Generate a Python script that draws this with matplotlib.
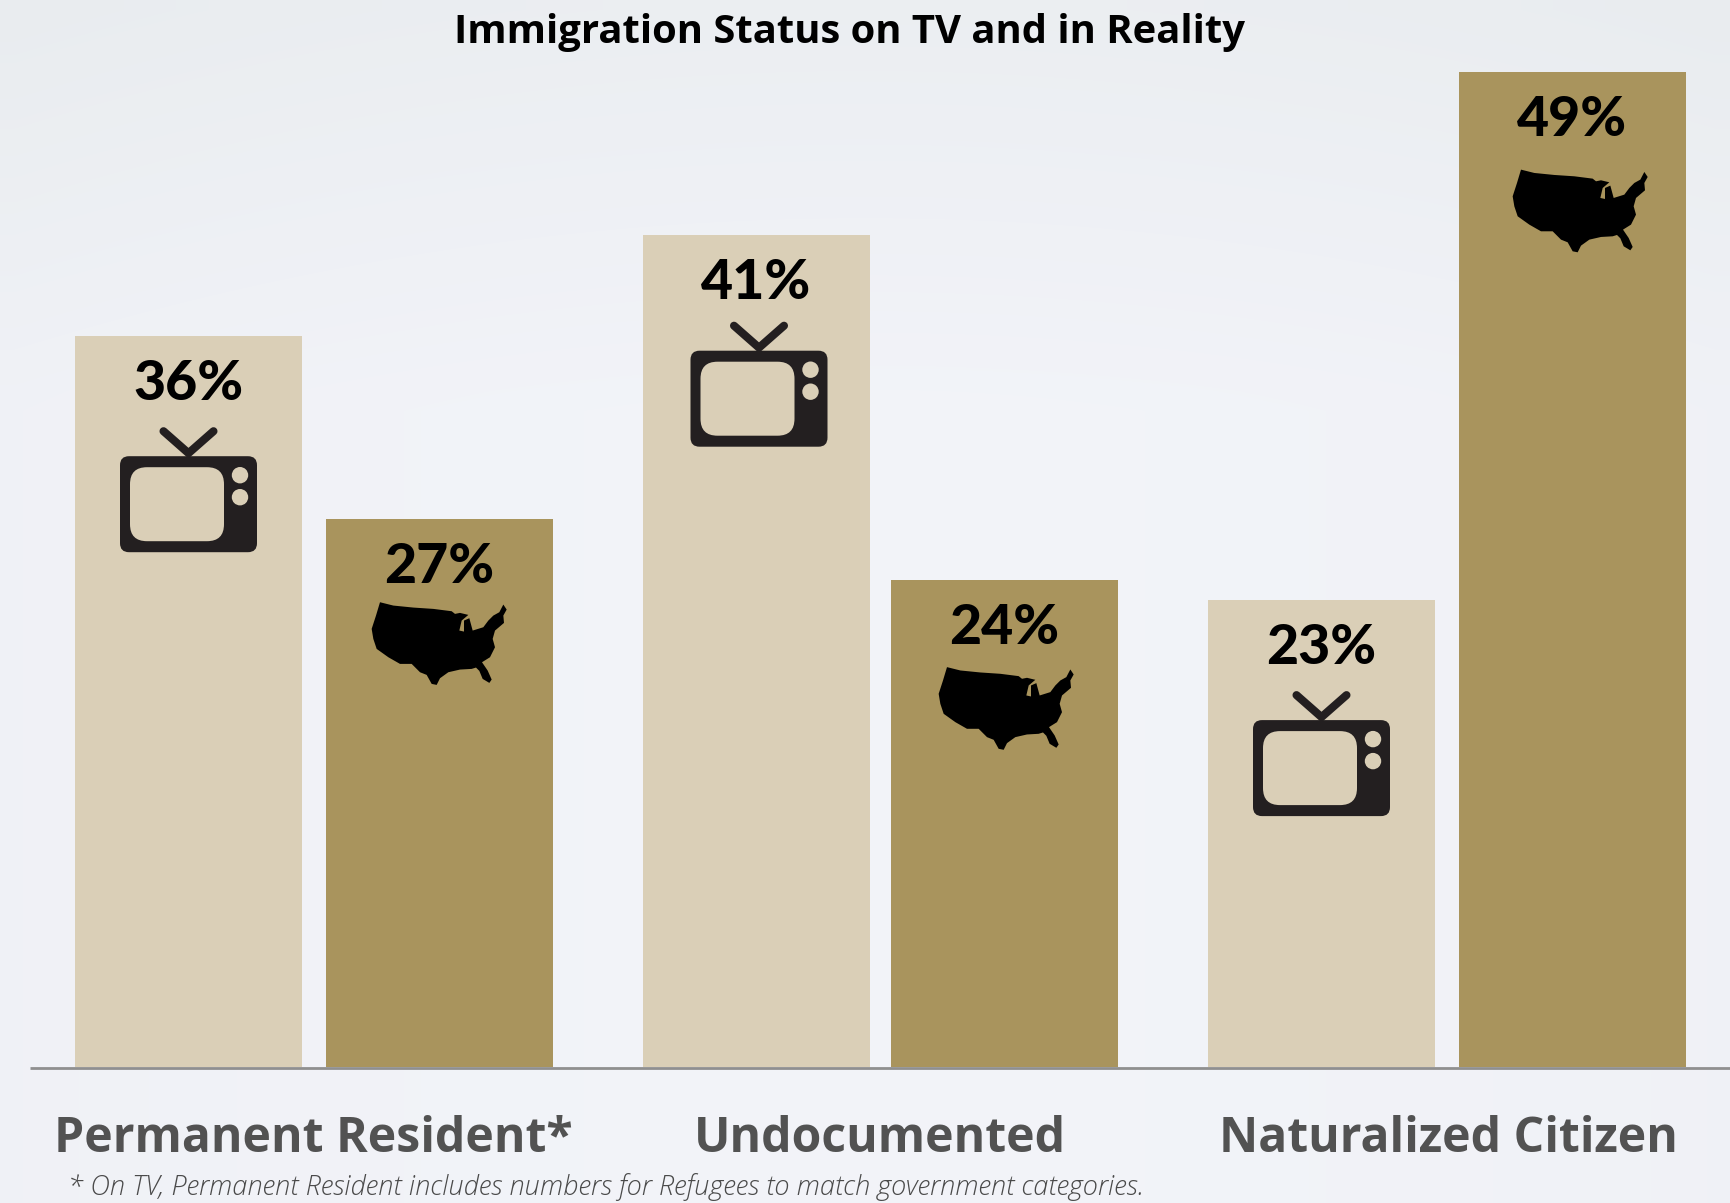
import matplotlib
matplotlib.use("Agg")
import matplotlib.pyplot as plt
import numpy as np
from matplotlib.patches import FancyBboxPatch, Circle, Polygon
from matplotlib.transforms import Affine2D

categories = ["Permanent Resident*", "Undocumented", "Naturalized Citizen"]
tv_values = [36, 41, 23]
real_values = [27, 24, 49]

W, H = 1730, 1203
BASE = 1067      # pixel row of the baseline
PX_PER_PCT = 20.3
BAR_W = 227

tv_x = [188.5, 756, 1321.5]
real_x = [439.5, 1004.5, 1572.5]
label_x = [313, 880, 1448]
tv_color = "#DACFB7"
real_color = "#A9945D"
icon_color = "#231F20"

# small per-bar nudges of the icons (dx, dy in pixels)
tv_nudge = [(0, 0), (3, -4), (0, 0)]
real_nudge = [(0, 0), (2, 4), (8, 14)]

# outline of the map, traced in pixels relative to the centre of the bar / its top
usa = np.array([(960, 850), (1000, 860), (1060, 866), (1120, 870), (1175, 877), (1185, 885),
                (1200, 882), (1225, 888), (1205, 905), (1198, 935), (1212, 938), (1212, 905),
                (1228, 898), (1238, 935), (1270, 925), (1285, 905), (1300, 890), (1318, 880),
                (1330, 857), (1340, 872), (1330, 890), (1332, 912), (1305, 935), (1298, 960),
                (1305, 985), (1290, 1015), (1266, 1030), (1283, 1055), (1295, 1082), (1288, 1092),
                (1268, 1080), (1258, 1056), (1248, 1046), (1235, 1050), (1200, 1052), (1165, 1060),
                (1140, 1078), (1130, 1098), (1115, 1095), (1100, 1068), (1080, 1060), (1055, 1035),
                (1020, 1035), (985, 1015), (950, 990), (940, 960), (935, 930), (948, 890)], dtype=float)
usa = usa / 3 + [60 - 439.5, 320 - 520]

fig = plt.figure(figsize=(W / 100, H / 100), dpi=100)
ax = fig.add_axes([0, 0, 1, 1])
ax.set_xlim(0, W)
ax.set_ylim(-(H - BASE) / PX_PER_PCT, BASE / PX_PER_PCT)
ax.axis("off")

# background: pale grey, a bit darker to the top
yy, xx = np.mgrid[0:1:60j, 0:1:60j]
shade = np.clip(1 - yy * 3.0, 0, 1) * 0.6 + 0.4 * (xx - 0.5) ** 2 * 4 * 0.5
top = np.array([0.905, 0.92, 0.93])
low = np.array([0.95, 0.955, 0.975])
bg = low[None, None, :] * (1 - shade[..., None]) + top[None, None, :] * shade[..., None]
ax.imshow(bg, extent=[0, W, ax.get_ylim()[0], ax.get_ylim()[1]], aspect="auto",
          origin="upper", zorder=0, interpolation="bilinear")

ax.bar(tv_x, tv_values, width=BAR_W, color=tv_color, zorder=2)
ax.bar(real_x, real_values, width=BAR_W, color=real_color, zorder=2)
ax.plot([30, W], [-0.04, -0.04], color="#8F8F8F", lw=2.0, zorder=3, solid_capstyle="butt")

# icons are laid out in image pixels, y going down
px = Affine2D().scale(1, -1).translate(0, H)


def draw_tv(cx, top):
    def box(x0, y0, x1, y1, r, color):
        ax.add_patch(FancyBboxPatch((x0 + r, y0 + r), x1 - x0 - 2 * r, y1 - y0 - 2 * r,
                                    boxstyle="round,pad=%f,rounding_size=%f" % (r, r),
                                    fc=color, ec="none", transform=px, zorder=4))

    ax.plot([cx - 25, cx, cx + 25], [top - 25, top - 3, top - 25], color=icon_color, lw=5.8,
            solid_capstyle="round", solid_joinstyle="miter", transform=px, zorder=4)
    box(cx - 68.5, top, cx + 68.5, top + 96, 9, icon_color)
    box(cx - 58.5, top + 11, cx + 35.5, top + 85, 17, tv_color)
    for dy in (19, 41):
        ax.add_patch(Circle((cx + 51.5, top + dy), 8.2, fc=tv_color, ec="none",
                            transform=px, zorder=5))


def draw_usa(cx, top):
    ax.add_patch(Polygon(usa + [cx, top], closed=True, fc="black", ec="none",
                         transform=px, zorder=4))


for i in range(3):
    tv_top = BASE - tv_values[i] * PX_PER_PCT
    real_top = BASE - real_values[i] * PX_PER_PCT
    draw_tv(tv_x[i] + tv_nudge[i][0], tv_top + 120 + tv_nudge[i][1])
    draw_usa(real_x[i] + real_nudge[i][0], real_top + real_nudge[i][1])
    for x, v, t in ((tv_x[i], tv_values[i], tv_top), (real_x[i], real_values[i], real_top)):
        ax.text(x, t + 48, "%d%%" % v, transform=px, ha="center", va="center",
                family="Lato", fontweight="black", fontsize=40, color="black", zorder=5)
    ax.text(label_x[i], 1139, categories[i], transform=px, ha="center", va="center",
            family="Open Sans", fontweight="bold", fontsize=34.7, color="#525252", zorder=5)

ax.text(850, 32, "Immigration Status on TV and in Reality", transform=px, ha="center", va="center",
        family="Open Sans", fontweight="bold", fontsize=28.8, color="black", zorder=5)
ax.text(68, 1187, "* On TV, Permanent Resident includes numbers for Refugees to match government categories.",
        transform=px, ha="left", va="center", family="Open Sans", fontstyle="italic", fontweight="light",
        fontsize=19.6, color="#4a4a4a", zorder=5)

fig.savefig("out.png", dpi=100)
